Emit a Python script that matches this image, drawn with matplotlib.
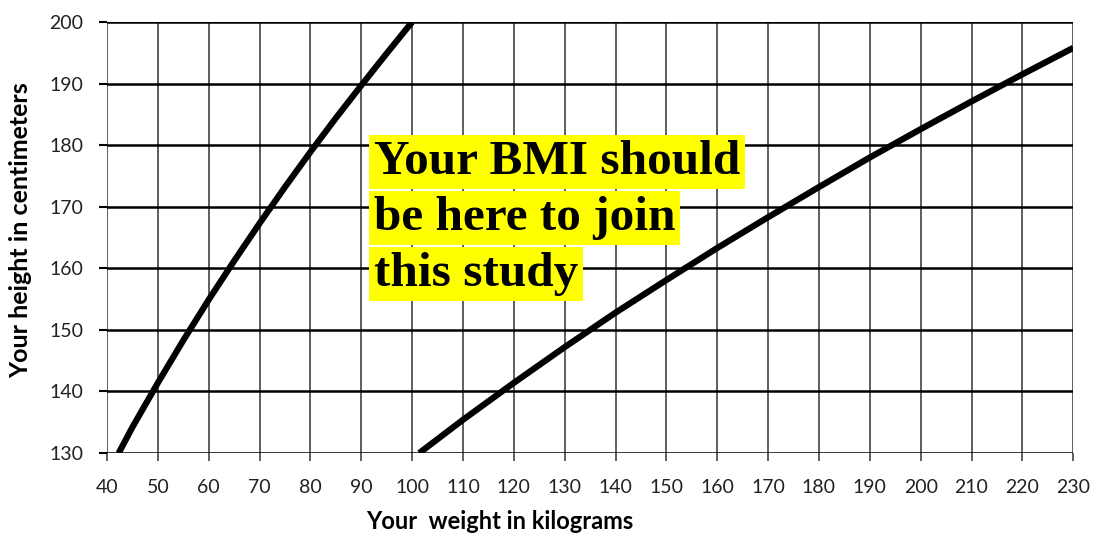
import matplotlib.pyplot as plt
import numpy as np

# values (weight in kg, height in cm)
low_w = [42.3, 45, 50, 55, 60, 65, 70, 75, 80, 85, 90, 95, 100]
low_h = [130, 134.2, 141.4, 148.3, 154.9, 161.2, 167.3, 173.2, 178.9, 184.4, 189.7, 194.9, 200]
high_w = [101.4, 110, 120, 130, 140, 150, 160, 170, 180, 190, 200, 210, 220, 230]
high_h = [130, 135.4, 141.4, 147.2, 152.8, 158.1, 163.3, 168.3, 173.2, 178.0, 182.6, 187.1, 191.5, 195.8]

x_ticks = list(range(40, 231, 10))
y_ticks = list(range(130, 201, 10))
note_lines = ["Your BMI should", "be here to join", "this study"]

fig = plt.figure(figsize=(10.94, 5.33), dpi=100)
ax = fig.add_axes([0.0978, 0.150, 0.8832, 0.8087])

for x in x_ticks:
    ax.axvline(x, color='#333333', lw=1.1, zorder=1)
for y in y_ticks:
    ax.axhline(y, color='black', lw=1.8, zorder=1)

ax.plot(low_w, low_h, color='black', lw=4.5, solid_capstyle='butt', zorder=3)
ax.plot(high_w, high_h, color='black', lw=4.5, solid_capstyle='butt', zorder=3)

ax.set_xlim(40, 230)
ax.set_ylim(130, 200)
ax.set_xticks(x_ticks)
ax.set_yticks(y_ticks)
for s in ax.spines.values():
    s.set_visible(False)
ax.tick_params(axis='x', length=6, width=1.1, color='#333333', pad=13, labelsize=14, labelcolor='#222222')
ax.tick_params(axis='y', length=6, width=1.5, color='black', pad=11, labelsize=14, labelcolor='#222222')
for lab in ax.get_xticklabels() + ax.get_yticklabels():
    lab.set_fontfamily('Lato')

# yellow highlighted note, one box per line
for i, line in enumerate(note_lines):
    fig.text(374 / 1094, 1 - (162 + i * 56) / 533, line, family='Liberation Serif',
             fontweight='bold', fontsize=35.5, va='center', ha='left', zorder=5,
             bbox=dict(facecolor='yellow', edgecolor='none', pad=3.5))

fig.text(500 / 1094, 4 / 533, 'Your  weight in kilograms', family='Lato', fontweight='bold',
         fontsize=17, ha='center', va='baseline')
fig.text(0.019, 1 - 230 / 533, 'Your height in centimeters', family='Lato', fontweight='bold',
         fontsize=18, ha='center', va='center', rotation=90)

fig.savefig('out.png', dpi=100)
